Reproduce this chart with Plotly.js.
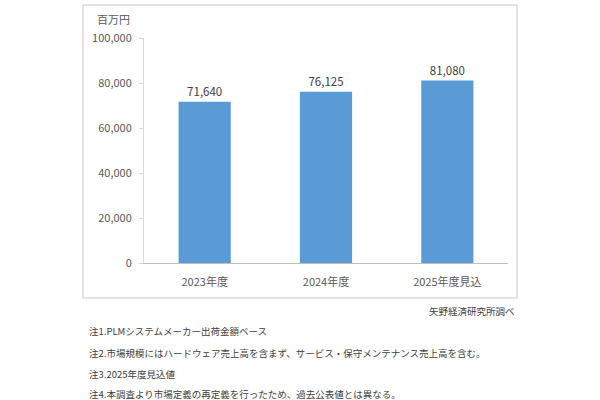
<!DOCTYPE html>
<html>
<head>
<meta charset="utf-8">
<script src="https://cdn.plot.ly/plotly-3.0.1.min.js"></script>
<style>
  html, body { margin: 0; padding: 0; background: #fff; }
  #chart { width: 600px; height: 400px; }
</style>
</head>
<body>
<div id="chart"></div>
<script>
const categories = ['2023年度', '2024年度', '2025年度見込'];
const values = [71640, 76125, 81080];
const tickVals = [0, 20000, 40000, 60000, 80000, 100000];
const notes = [
    '注1.PLMシステムメーカー出荷金額ベース',
    '注2.市場規模にはハードウェア売上高を含まず、サービス・保守メンテナンス売上高を含む。',
    '注3.2025年度見込値',
    '注4.本調査より市場定義の再定義を行ったため、過去公表値とは異なる。'
];

const font = '"Noto Sans CJK JP", "Noto Sans", sans-serif';

const data = [
    {
        x: categories,
        y: values,
        type: 'bar',
        marker: {color: '#5b9bd5'},
        text: values.map(v => v.toLocaleString('en-US')),
        textposition: 'outside',
        textfont: {family: font, size: 11.5, color: '#404040'},
        cliponaxis: false,
        hoverinfo: 'none'
    }
];

const noteY = [331, 353, 374, 394];
const annotations = notes.map((t, i) => ({
    text: t,
    xref: 'paper', yref: 'paper',
    x: 87 / 600, y: 1 - noteY[i] / 400,
    xanchor: 'left', yanchor: 'middle',
    showarrow: false,
    font: {family: font, size: 9.5, color: '#404040'}
}));
annotations.push({
    text: '百万円',
    xref: 'paper', yref: 'paper',
    x: 95 / 600, y: 1 - 19 / 400,
    xanchor: 'left', yanchor: 'middle',
    showarrow: false,
    font: {family: font, size: 11, color: '#595959'}
});
annotations.push({
    text: '矢野経済研究所調べ',
    xref: 'paper', yref: 'paper',
    x: 517 / 600, y: 1 - 311 / 400,
    xanchor: 'right', yanchor: 'middle',
    showarrow: false,
    font: {family: font, size: 9.5, color: '#404040'}
});

const layout = {
    width: 600,
    height: 400,
    margin: {l: 0, r: 0, t: 0, b: 0},
    paper_bgcolor: '#fff',
    plot_bgcolor: '#fff',
    showlegend: false,
    bargap: 0.57,
    xaxis: {
        domain: [144 / 600, 508 / 600],
        showline: true,
        linecolor: '#bfbfbf',
        linewidth: 1,
        ticks: '',
        ticklabelstandoff: 9,
        tickfont: {family: font, size: 11, color: '#595959'},
        fixedrange: true
    },
    yaxis: {
        domain: [1 - 263 / 400, 1 - 38 / 400],
        range: [0, 100000],
        tickvals: tickVals,
        ticktext: tickVals.map(v => v.toLocaleString('en-US')),
        showgrid: false,
        zeroline: false,
        showline: true,
        linecolor: '#d9d9d9',
        ticks: 'outside',
        ticklen: 4,
        tickcolor: '#d9d9d9',
        ticklabelstandoff: 5,
        tickfont: {family: font, size: 11, color: '#595959'},
        fixedrange: true
    },
    shapes: [
        {
            type: 'rect',
            xref: 'paper', yref: 'paper',
            x0: 83 / 600, x1: 517 / 600,
            y0: 1 - 298 / 400, y1: 1 - 5 / 400,
            line: {color: '#d9d9d9', width: 1.5}
        }
    ],
    annotations: annotations
};

Plotly.newPlot('chart', data, layout, {staticPlot: true});
</script>
</body>
</html>
